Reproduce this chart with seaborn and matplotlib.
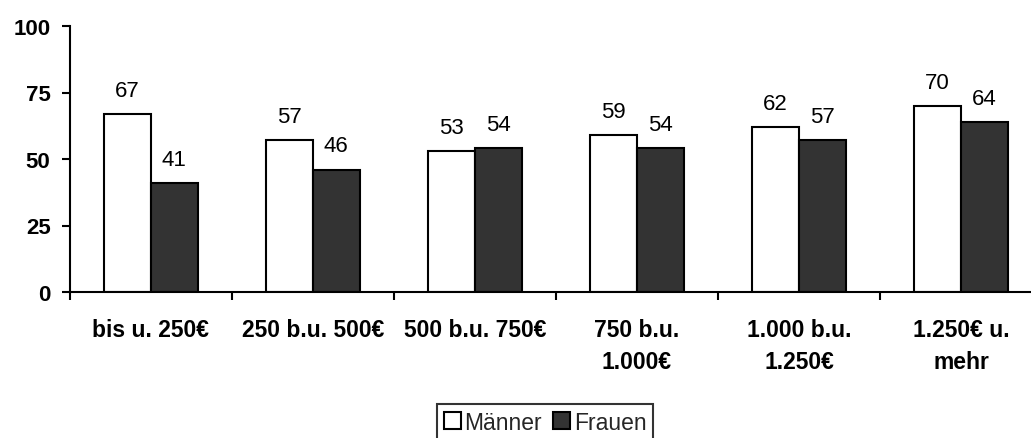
import matplotlib
matplotlib.use("Agg")
import matplotlib.pyplot as plt
import seaborn as sns
import pandas as pd
import numpy as np

categories = ["bis u. 250€", "250 b.u. 500€", "500 b.u. 750€",
              "750 b.u.\n1.000€", "1.000 b.u.\n1.250€", "1.250€ u.\nmehr"]
maenner = [67, 57, 53, 59, 62, 70]
frauen = [41, 46, 54, 54, 57, 64]
series_names = ["Männer", "Frauen"]
y_ticks = [0, 25, 50, 75, 100]

sns.set_theme(style="white")
plt.rcParams["font.family"] = ["Liberation Sans", "DejaVu Sans"]

df = pd.DataFrame({
    "Kategorie": categories * 2,
    "Wert": maenner + frauen,
    "Geschlecht": [series_names[0]] * len(categories) + [series_names[1]] * len(categories),
})

fig = plt.figure(figsize=(10.31, 4.39), dpi=100)
ax = fig.add_axes([70 / 1031, 1 - 293 / 439, 972 / 1031, 266 / 439])

sns.barplot(data=df, x="Kategorie", y="Wert", hue="Geschlecht",
            palette=["white", "#333333"], edgecolor="black", linewidth=1.5,
            width=0.575, dodge=True, ax=ax, legend=True)

for cont in ax.containers:
    ax.bar_label(cont, fmt="%d", padding=9.5, fontsize=16, color="black")

ax.set_ylim(0, 100)
ax.set_xlim(-0.5, len(categories) - 0.5)
ax.set_yticks(y_ticks)
ax.set_yticklabels([str(t) for t in y_ticks], fontweight="bold", fontsize=16)
ax.set_xticks(range(len(categories)))
ax.set_xticklabels(categories, fontweight="bold", fontsize=16.5, linespacing=1.5)
ax.set_xticks(np.arange(-0.5, len(categories)), minor=True)
ax.tick_params(bottom=True, left=True, which="both")
ax.tick_params(axis="x", which="major", length=0, pad=19, colors="black")
ax.tick_params(axis="x", which="minor", length=6, width=1.5, direction="out", color="black")
ax.tick_params(axis="y", which="major", length=6, width=1.5, direction="out", pad=8, colors="black")
ax.set_xlabel("")
ax.set_ylabel("")

for side in ["top", "right"]:
    ax.spines[side].set_visible(False)
for side in ["left", "bottom"]:
    ax.spines[side].set_color("black")
    ax.spines[side].set_linewidth(1.5)

handles, labels = ax.get_legend_handles_labels()
ax.legend_.remove()
leg = fig.legend(handles, labels, loc="upper center", bbox_to_anchor=(545 / 1031, 1 - 405 / 439),
                 ncol=2, frameon=True, fancybox=False, fontsize=16.5,
                 handlelength=0.75, handleheight=0.75, handletextpad=0.15, columnspacing=0.5,
                 borderpad=0.3, borderaxespad=0)
leg.get_frame().set_edgecolor("black")
leg.get_frame().set_linewidth(1.5)
for h in leg.legend_handles:
    h.set_edgecolor("black")
    h.set_linewidth(1.5)

fig.savefig("out.png", dpi=100)
